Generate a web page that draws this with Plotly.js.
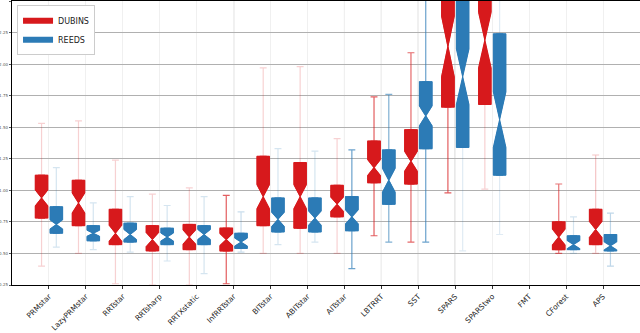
<!DOCTYPE html>
<html>
<head>
<meta charset="utf-8">
<script src="https://cdn.plot.ly/plotly-3.0.1.min.js"></script>
<style>html,body{margin:0;padding:0;background:#fff;}#chart{width:640px;height:333px;}</style>
</head>
<body>
<div id="chart"></div>
<script>
const categories = ["PRMstar","LazyPRMstar","RRTstar","RRTsharp","RRTXstatic","InfRRTstar","BITstar","ABITstar","AITstar","LBTRRT","SST","SPARS","SPARStwo","FMT","CForest","APS"];
const seriesNames = ["DUBINS","REEDS"];

const dubinsUpper  = [1.53, 1.55, 1.24, 0.97, 1.02, 0.96, 1.97, 1.98, 1.41, 1.74, 2.09, 3.00, 3.00, null, 1.05, 1.28];
const dubinsQ3     = [1.12, 1.08, 0.85, 0.72, 0.73, 0.70, 1.27, 1.22, 1.04, 1.39, 1.48, 2.65, 2.70, null, 0.75, 0.85];
const dubinsMedian = [0.94, 0.90, 0.66, 0.61, 0.63, 0.61, 0.95, 0.95, 0.89, 1.18, 1.23, 2.14, 2.19, null, 0.63, 0.69];
const dubinsQ1     = [0.78, 0.72, 0.57, 0.52, 0.53, 0.52, 0.72, 0.70, 0.79, 1.06, 1.05, 1.66, 1.68, null, 0.53, 0.57];
const dubinsLower  = [0.40, 0.50, 0.26, 0.25, 0.25, 0.26, 0.50, 0.50, 0.50, 0.64, 0.59, 0.98, 1.01, null, 0.50, 0.50];
const dubinsNotch  = [0.063, 0.079, 0.063, 0.056, 0.056, 0.048, 0.095, 0.095, 0.056, 0.063, 0.079, 0.24, 0.22, null, 0.063, 0.063];

const reedsUpper  = [1.18, 0.90, 0.95, 0.88, 0.95, 0.83, 1.33, 1.31, 1.32, 1.76, 3.00, 3.00, 3.00, null, 0.79, 0.82];
const reedsQ3     = [0.87, 0.72, 0.74, 0.70, 0.72, 0.66, 0.94, 0.94, 0.95, 1.32, 1.86, 2.70, 2.24, null, 0.64, 0.65];
const reedsMedian = [0.73, 0.66, 0.65, 0.63, 0.65, 0.59, 0.77, 0.78, 0.79, 1.08, 1.59, 1.90, 1.56, null, 0.57, 0.56];
const reedsQ1     = [0.66, 0.60, 0.59, 0.57, 0.57, 0.54, 0.67, 0.67, 0.68, 0.89, 1.33, 1.34, 1.12, null, 0.53, 0.52];
const reedsLower  = [0.55, 0.53, 0.51, 0.44, 0.34, 0.51, 0.57, 0.59, 0.38, 0.59, 0.59, 0.52, 0.65, null, 0.50, 0.40];
const reedsNotch  = [0.036, 0.024, 0.04, 0.032, 0.04, 0.032, 0.056, 0.056, 0.056, 0.095, 0.079, 0.22, 0.22, null, 0.032, 0.032];

const yTickVals  = [0.25, 0.5, 0.75, 1.0, 1.25, 1.5, 1.75, 2.0, 2.25, 2.5];
const yTickText  = ["0.25","0.50","0.75","1.00","1.25","1.50","1.75","2.00","2.25","2.50"];

// styling (kept apart from data)
const colors = {DUBINS: [215,25,28], REEDS: [44,123,182]};
const whiskerAlpha = {
  DUBINS: [0.2,0.2,0.2,0.2,0.2,0.7,0.2,0.2,0.2,0.7,0.65,0.7,0.2,0,0.6,0.25],
  REEDS:  [0.2,0.2,0.2,0.2,0.2,0.25,0.2,0.2,0.7,0.6,0.7,0.15,0.15,0,0.2,0.3]
};
const darkGridCats = ["InfRRTstar","AITstar","LBTRRT","SST","SPARS"];

const series = {
  DUBINS: {lo: dubinsLower, q1: dubinsQ1, med: dubinsMedian, q3: dubinsQ3, up: dubinsUpper, ns: dubinsNotch},
  REEDS:  {lo: reedsLower,  q1: reedsQ1,  med: reedsMedian,  q3: reedsQ3,  up: reedsUpper,  ns: reedsNotch}
};

function rgba(c, a){ return `rgba(${c[0]},${c[1]},${c[2]},${a})`; }

const whiskerTraces = [];
const boxTraces = [];
seriesNames.forEach(name => {
  const s = series[name];
  const c = colors[name];
  categories.forEach((cat, i) => {
    if (s.med[i] === null) return;
    const common = {
      type: 'box', x: [cat],
      q1: [s.q1[i]], median: [s.med[i]], q3: [s.q3[i]],
      notched: true, notchspan: [s.ns[i]], notchwidth: 0.5,
      offsetgroup: name, alignmentgroup: 'a',
      boxpoints: false, showlegend: false, hoverinfo: 'skip',
      whiskerwidth: 0.55
    };
    whiskerTraces.push(Object.assign({}, common, {
      lowerfence: [s.lo[i]], upperfence: [s.up[i]],
      fillcolor: rgba(c, 1), line: {color: rgba(c, whiskerAlpha[name][i]), width: 1.2}
    }));
    boxTraces.push(Object.assign({}, common, {
      lowerfence: [s.q1[i]], upperfence: [s.q3[i]],
      fillcolor: rgba(c, 1), line: {color: rgba(c, 1), width: 1}
    }));
  });
});

const legendTraces = seriesNames.map(name => ({
  type: 'scatter', mode: 'lines', x: [null], y: [null], name: name,
  line: {color: rgba(colors[name], 1), width: 6}, hoverinfo: 'skip'
}));

const shapes = darkGridCats.map(cat => ({
  type: 'line', xref: 'x', yref: 'paper', x0: cat, x1: cat, y0: 0, y1: 1,
  line: {color: '#9a9a9a', width: 1}, layer: 'below'
}));

const layout = {
  width: 640, height: 333,
  margin: {l: 12, r: 0, t: 1, b: 48},
  paper_bgcolor: '#fff', plot_bgcolor: '#fff',
  boxmode: 'group', boxgap: 0.2, boxgroupgap: 0.15,
  showlegend: true,
  legend: {x: 0.008, y: 0.985, xanchor: 'left', yanchor: 'top',
           bgcolor: '#fff', bordercolor: '#cccccc', borderwidth: 1,
           font: {family: 'DejaVu Sans, sans-serif', size: 8, color: '#222'},
           itemwidth: 30, tracegroupgap: 2},
  xaxis: {
    type: 'category', categoryorder: 'array', categoryarray: categories,
    range: [-1, 16], tickmode: 'array', tickvals: categories, ticktext: categories,
    tickangle: -45, tickfont: {family: 'DejaVu Sans, sans-serif', size: 7.5, color: '#222'},
    showgrid: true, gridcolor: '#f0f0f0', gridwidth: 1,
    showline: true, linecolor: '#000', linewidth: 1.2, mirror: true,
    ticks: 'outside', ticklen: 3, tickcolor: '#333', automargin: false, zeroline: false
  },
  yaxis: {
    range: [0.25, 2.5], tickmode: 'array', tickvals: yTickVals, ticktext: yTickText,
    tickfont: {family: 'DejaVu Sans, sans-serif', size: 4, color: '#555'},
    showgrid: true, gridcolor: '#b0b0b0', gridwidth: 1,
    showline: true, linecolor: '#000', linewidth: 1.2, mirror: true,
    ticks: 'outside', ticklen: 2, tickcolor: '#555', automargin: false, zeroline: false
  },
  shapes: shapes
};

Plotly.newPlot('chart', whiskerTraces.concat(boxTraces).concat(legendTraces), layout, {staticPlot: true, displayModeBar: false});
</script>
</body>
</html>
